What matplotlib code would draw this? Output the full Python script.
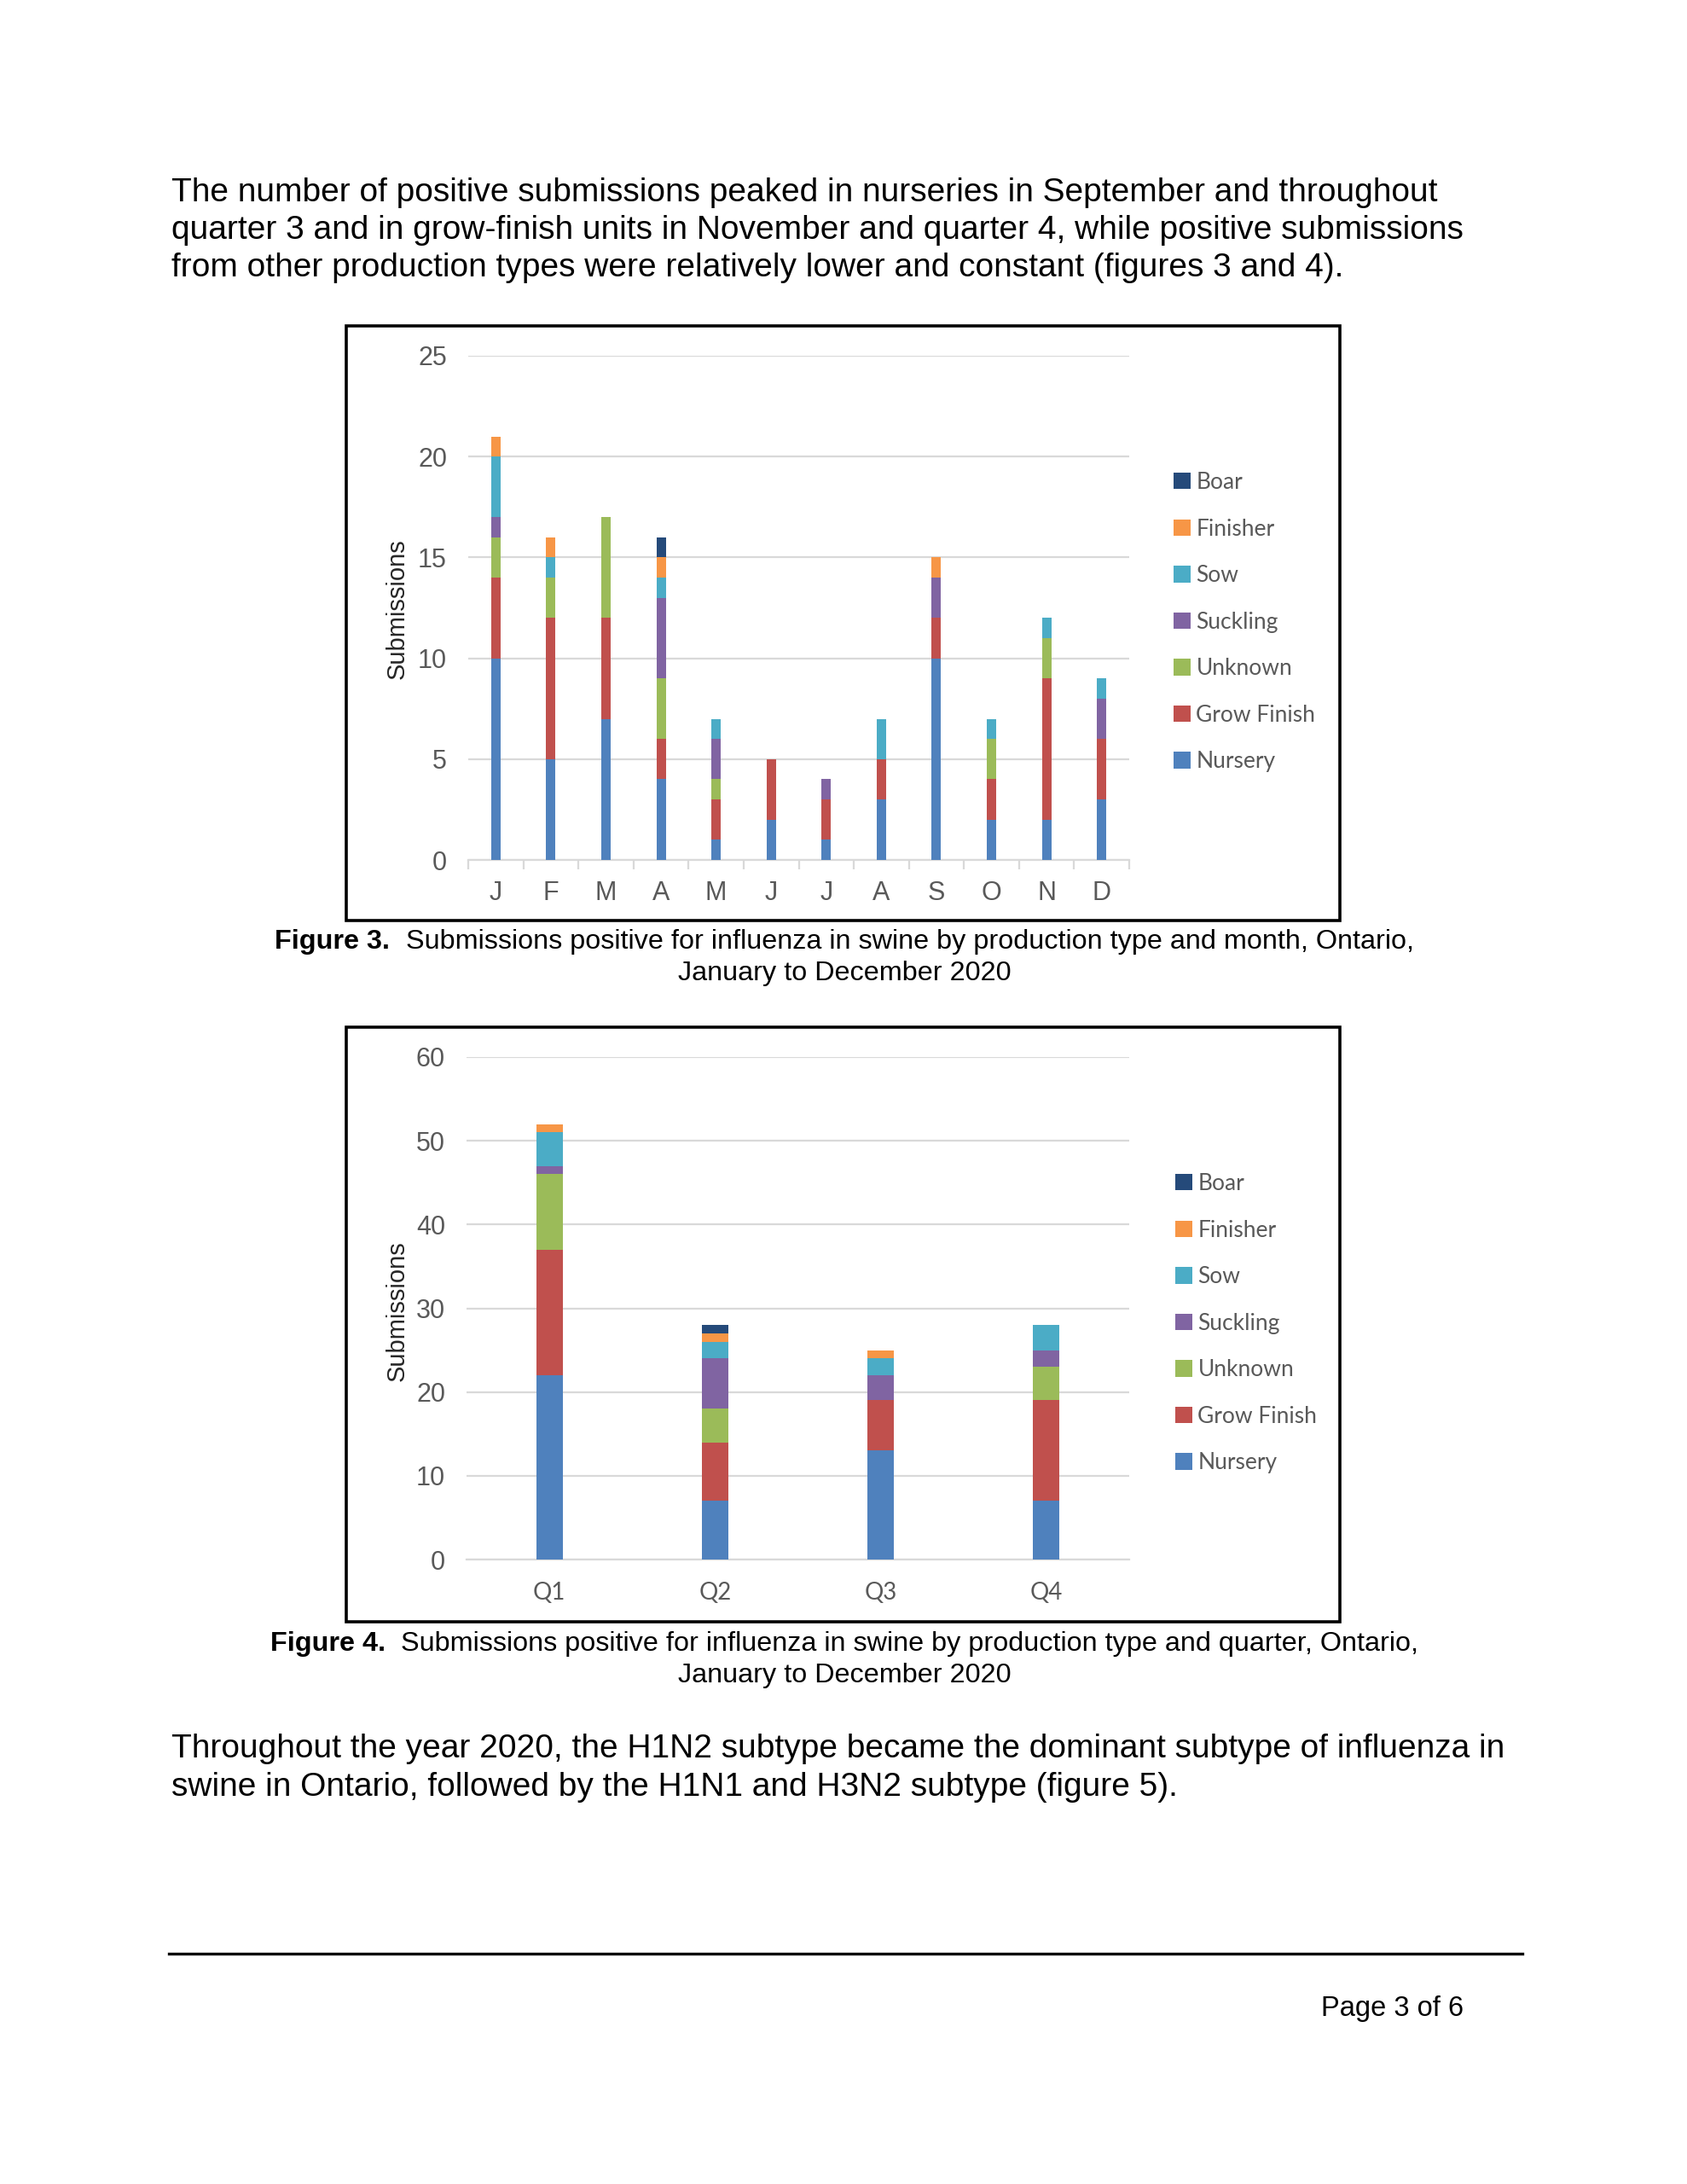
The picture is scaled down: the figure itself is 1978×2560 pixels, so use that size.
import numpy as np
import matplotlib
matplotlib.use("Agg")
import matplotlib.pyplot as plt
from matplotlib.patches import Rectangle
from matplotlib.lines import Line2D

W, H = 1978, 2560

# --- data -------------------------------------------------------------
types = ["Nursery", "Grow Finish", "Unknown", "Suckling", "Sow", "Finisher", "Boar"]
colors = ["#4F81BD", "#C0504D", "#9BBB59", "#8064A2", "#4BACC6", "#F79646", "#254A7A"]

months = ["J", "F", "M", "A", "M", "J", "J", "A", "S", "O", "N", "D"]
m_nursery = [10, 5, 7, 4, 1, 2, 1, 3, 10, 2, 2, 3]
m_grow    = [4, 7, 5, 2, 2, 3, 2, 2, 2, 2, 7, 3]
m_unknown = [2, 2, 5, 3, 1, 0, 0, 0, 0, 2, 2, 0]
m_suck    = [1, 0, 0, 4, 2, 0, 1, 0, 2, 0, 0, 2]
m_sow     = [3, 1, 0, 1, 1, 0, 0, 2, 0, 1, 1, 1]
m_finish  = [1, 1, 0, 1, 0, 0, 0, 0, 1, 0, 0, 0]
m_boar    = [0, 0, 0, 1, 0, 0, 0, 0, 0, 0, 0, 0]

quarters = ["Q1", "Q2", "Q3", "Q4"]
q_nursery = [22, 7, 13, 7]
q_grow    = [15, 7, 6, 12]
q_unknown = [9, 4, 0, 4]
q_suck    = [1, 6, 3, 2]
q_sow     = [4, 2, 2, 3]
q_finish  = [1, 1, 1, 0]
q_boar    = [0, 1, 0, 0]

para1 = ["The number of positive submissions peaked in nurseries in September and throughout",
         "quarter 3 and in grow-finish units in November and quarter 4, while positive submissions",
         "from other production types were relatively lower and constant (figures 3 and 4)."]
para2 = ["Throughout the year 2020, the H1N2 subtype became the dominant subtype of influenza in",
         "swine in Ontario, followed by the H1N1 and H3N2 subtype (figure 5)."]

ARIAL = "Liberation Sans"
CALIBRI = "Lato"
GRAY = "#595959"
GRID = "#D9D9D9"

fig = plt.figure(figsize=(W / 100, H / 100), dpi=100)
fig.patch.set_facecolor("white")


def fx(x):
    return x / W


def fy(y):
    return 1 - y / H


def frame(x0, y0, x1, y1):
    fig.patches.append(Rectangle((fx(x0), fy(y1)), fx(x1 - x0), (y1 - y0) / H,
                                 transform=fig.transFigure, fill=False,
                                 edgecolor="black", linewidth=2.6))


def stacked(ax, cats, series, width):
    x = np.arange(len(cats))
    bottom = np.zeros(len(cats))
    handles = []
    for vals, name, c in zip(series, types, colors):
        h = ax.bar(x, vals, width, bottom=bottom, color=c, label=name, zorder=3)
        bottom += np.array(vals)
        handles.append(h)
    ax.set_xlim(-0.5, len(cats) - 0.5)
    ax.set_xticks(x)
    for s in ["top", "right", "left"]:
        ax.spines[s].set_visible(False)
    ax.spines["bottom"].set_color(GRID)
    ax.spines["bottom"].set_linewidth(1.6)
    ax.grid(axis="y", color=GRID, linewidth=1.6, zorder=0)
    ax.set_axisbelow(True)
    ax.tick_params(axis="y", length=0, pad=18, labelsize=22, labelcolor=GRAY)
    for t in ax.get_yticklabels():
        t.set_fontfamily(ARIAL)
    return handles


def legend(ax, handles, x, y):
    ax.legend(handles[::-1], types[::-1], loc="upper left",
              bbox_to_anchor=(fx(x), fy(y)), bbox_transform=fig.transFigure,
              frameon=False, prop={"family": CALIBRI, "size": 19},
              labelcolor=GRAY, handlelength=0.75, handleheight=0.75,
              handletextpad=0.25, labelspacing=1.12, borderpad=0, borderaxespad=0)


# --- figure 3 ---------------------------------------------------------
frame(406, 382, 1571, 1079)
ax3 = fig.add_axes([fx(549), fy(1008), (1324 - 549) / W, (1008 - 417) / H])
h3 = stacked(ax3, months,
             [m_nursery, m_grow, m_unknown, m_suck, m_sow, m_finish, m_boar], 0.17)
ax3.set_ylim(0, 25)
ax3.set_yticks(np.arange(0, 26, 5))
ax3.set_xticks(np.arange(-0.5, 12, 1), minor=True)
ax3.set_xticklabels(months, fontfamily=ARIAL, fontsize=22, color=GRAY)
ax3.tick_params(axis="x", which="major", length=0, pad=17)
ax3.tick_params(axis="x", which="minor", length=8, width=1.6, color=GRID)
fig.text(fx(466), fy(714), "Submissions", rotation=90, ha="center", va="center",
         fontfamily=ARIAL, fontsize=21, color="#262626")
legend(ax3, h3, 1376, 553)

# --- figure 4 ---------------------------------------------------------
frame(406, 1204, 1571, 1901)
ax4 = fig.add_axes([fx(547), fy(1828), (1324 - 547) / W, (1828 - 1239) / H])
h4 = stacked(ax4, quarters,
             [q_nursery, q_grow, q_unknown, q_suck, q_sow, q_finish, q_boar], 0.16)
ax4.set_ylim(0, 60)
ax4.set_yticks(np.arange(0, 61, 10))
ax4.set_xticklabels(quarters, fontfamily=CALIBRI, fontsize=20, color=GRAY)
ax4.tick_params(axis="x", length=0, pad=19)
fig.text(fx(466), fy(1537), "Submissions", rotation=90, ha="center", va="center",
         fontfamily=ARIAL, fontsize=21, color="#262626")
legend(ax4, h4, 1378, 1375)

# --- page text --------------------------------------------------------
for i, line in enumerate(para1):
    fig.text(fx(201), fy(226 + 44 * i), line, ha="left", va="center",
             fontfamily=ARIAL, fontsize=28, color="black")
for i, line in enumerate(para2):
    fig.text(fx(201), fy(2050 + 45 * i), line, ha="left", va="center",
             fontfamily=ARIAL, fontsize=28, color="black")

renderer = fig.canvas.get_renderer()


def caption(num, rest, line2, y):
    cap_size = 23.3
    bold = fig.text(0, fy(y), f"Figure {num}.  ", ha="left", va="center",
                    fontfamily=ARIAL, fontweight="bold", fontsize=cap_size)
    body = fig.text(0, fy(y), rest, ha="left", va="center",
                    fontfamily=ARIAL, fontsize=cap_size)
    wb = bold.get_window_extent(renderer).width
    wr = body.get_window_extent(renderer).width
    x0 = 990 - (wb + wr) / 2
    bold.set_x(fx(x0))
    body.set_x(fx(x0 + wb))
    fig.text(fx(990), fy(y + 37), line2, ha="center", va="center",
             fontfamily=ARIAL, fontsize=cap_size)


caption(3, "Submissions positive for influenza in swine by production type and month, Ontario,",
        "January to December 2020", 1104)
caption(4, "Submissions positive for influenza in swine by production type and quarter, Ontario,",
        "January to December 2020", 1927)

fig.add_artist(Line2D([fx(198), fx(1785)], [fy(2290), fy(2290)],
                      transform=fig.transFigure, color="black", linewidth=2.4))
fig.text(fx(1716), fy(2354), "Page 3 of 6", ha="right", va="center",
         fontfamily=ARIAL, fontsize=23.5)

fig.savefig("out.png", dpi=100, facecolor="white")
